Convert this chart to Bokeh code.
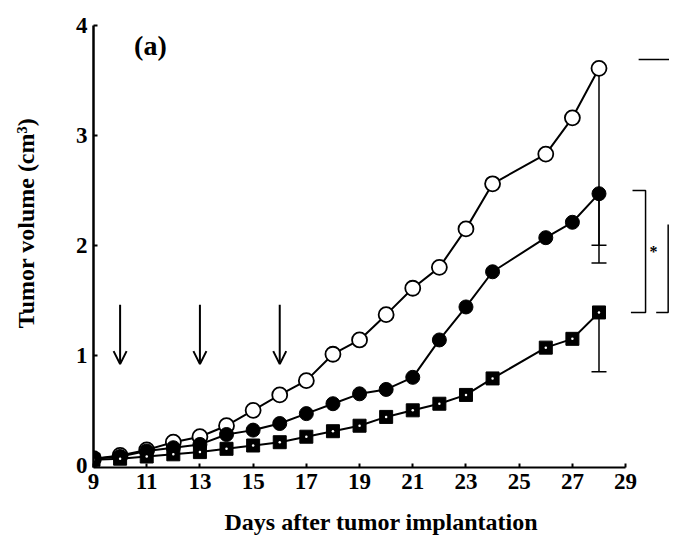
from bokeh.plotting import figure
from bokeh.models import Range1d, FixedTicker, Arrow, OpenHead, Label
from bokeh.embed import file_html
from bokeh.resources import INLINE

# ---- data ----
days_ctrl = [9, 10, 11, 12, 13, 14, 15, 16, 17, 18, 19, 20, 21, 22, 23, 24, 26, 27, 28]
vol_open = [0.06, 0.09, 0.14, 0.21, 0.26, 0.36, 0.50, 0.64, 0.77, 1.01, 1.14, 1.37, 1.61, 1.80, 2.15, 2.56, 2.83, 3.16, 3.61]
vol_filled = [0.06, 0.08, 0.13, 0.16, 0.19, 0.28, 0.32, 0.38, 0.47, 0.56, 0.65, 0.69, 0.80, 1.14, 1.44, 1.76, 2.07, 2.21, 2.47]
vol_square = [0.05, 0.06, 0.08, 0.10, 0.12, 0.15, 0.18, 0.21, 0.26, 0.31, 0.36, 0.44, 0.50, 0.56, 0.64, 0.79, 1.07, 1.15, 1.39]

err_day = 28
err_lower = [2.00, 1.84, 0.85]          # lower ends of SD bars (open, filled, square)
err_top = [vol_open[-1], vol_filled[-1], vol_square[-1]]

arrow_days = [10, 13, 16]
arrow_from, arrow_to = 1.46, 0.92

x_ticks = [9, 11, 13, 15, 17, 19, 21, 23, 25, 27, 29]
y_ticks = [0, 1, 2, 3, 4]

FONT = "Liberation Serif"
NBSP = "\u00a0"

p = figure(width=669, height=537, output_backend="svg", toolbar_location=None,
           x_range=Range1d(9, 30.65), y_range=Range1d(-0.02, 4.045),
           min_border_left=93, min_border_right=0, min_border_top=20, min_border_bottom=69,
           x_axis_label="Days after tumor implantation",
           y_axis_label=NBSP * 7 + "Tumor volume (cm³)")
p.outline_line_color = None
p.xgrid.visible = False
p.ygrid.visible = False

for ax in (p.xaxis, p.yaxis):
    ax.axis_line_width = 2
    ax.axis_line_color = "black"
    ax.major_tick_line_width = 2
    ax.major_tick_in = 4
    ax.major_tick_out = 0
    ax.minor_tick_line_color = None
    ax.major_label_text_font = FONT
    ax.major_label_text_font_style = "bold"
    ax.major_label_text_font_size = "23px"
    ax.major_label_text_color = "black"
    ax.axis_label_text_font = FONT
    ax.axis_label_text_font_style = "bold"
    ax.axis_label_text_font_size = "24px"
    ax.axis_label_text_color = "black"

p.yaxis.axis_line_width = 2.5
p.xaxis.ticker = FixedTicker(ticks=x_ticks)
p.yaxis.ticker = FixedTicker(ticks=y_ticks)
p.xaxis.bounds = (9, 29)
p.yaxis.bounds = (-0.02, 4)
p.xaxis.major_label_standoff = 6
p.yaxis.major_label_standoff = 6
p.xaxis.axis_label_standoff = 17
p.yaxis.axis_label_standoff = 34

p.add_layout(Label(x=11.14, y=3.82, text="(a)", text_align="center", text_baseline="middle",
                   text_font=FONT, text_font_style="bold", text_font_size="28px",
                   text_color="black"))

# arrows (treatment days)
for d in arrow_days:
    p.add_layout(Arrow(end=OpenHead(size=13, line_width=2), x_start=d, y_start=arrow_from,
                       x_end=d, y_end=arrow_to, line_width=2))

# error bars at the last day
for top, low in zip(err_top, err_lower):
    p.segment(x0=[err_day], y0=[top], x1=[err_day], y1=[low], line_color="black", line_width=1.5)
p.scatter([err_day] * 3, err_lower, marker="dash", size=15, line_color="black", line_width=1.5)

# series (control first, squares on top)
p.line(days_ctrl, vol_open, line_color="black", line_width=2)
p.scatter(days_ctrl, vol_open, marker="circle", size=15, fill_color="white", line_color="black", line_width=1.8)

p.line(days_ctrl, vol_filled, line_color="black", line_width=2)
p.scatter(days_ctrl, vol_filled, marker="circle", size=14, fill_color="black", line_color="black")

p.line(days_ctrl, vol_square, line_color="black", line_width=2)
p.scatter(days_ctrl, vol_square, marker="square", size=13, fill_color="black", line_color="black")
p.scatter(days_ctrl, vol_square, marker="circle", size=2.5, fill_color="white", line_color=None)

# significance brackets on the right
b1_x = [29.26, 29.75, 29.75, 29.2]
b1_y = [vol_filled[-1] + 0.03, vol_filled[-1] + 0.03, vol_square[-1], vol_square[-1]]
p.line(b1_x, b1_y, line_color="black", line_width=1.5)
p.line([29.49, 30.65], [vol_open[-1] + 0.08, vol_open[-1] + 0.08], line_color="black", line_width=1.5)
p.line([30.6, 30.6, 30.15], [2.19, vol_square[-1], vol_square[-1]], line_color="black", line_width=1.5)
p.add_layout(Label(x=30.05, y=1.94, text="*", text_align="center", text_baseline="middle",
                   text_font=FONT, text_font_style="bold", text_font_size="16px", text_color="black"))

open("out.html", "w").write(file_html(p, INLINE))
